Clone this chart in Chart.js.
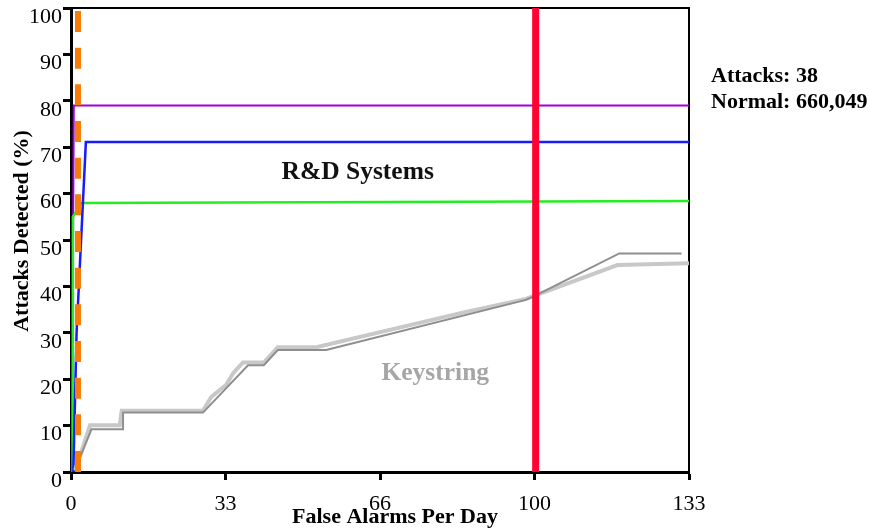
<!DOCTYPE html>
<html>
<head>
<meta charset="utf-8">
<script src="https://cdn.jsdelivr.net/npm/chart.js@4/dist/chart.umd.min.js"></script>
<style>
  html, body { margin: 0; padding: 0; background: #ffffff; }
  #wrap { width: 869px; height: 530px; position: relative; }
</style>
</head>
<body>
<div id="wrap"><canvas id="c" width="869" height="530"></canvas></div>
<script>
// ---- data ----
const xTickLabels = ['0', '33', '66', '100', '133'];
const yTickValues = [0, 10, 20, 30, 40, 50, 60, 70, 80, 90, 100];

const redX = [100, 100];
const redY = [0, 100];

const orangeX = [1.5, 1.5];
const orangeY = [0, 100];

const purpleX = [0, 0.3, 0.6, 133];
const purpleY = [0, 21, 79, 79];

const blueX = [0.5, 1.2, 3.2, 133];
const blueY = [0, 30, 71.1, 71.1];

const greenX = [0.3, 0.4, 2.2, 133];
const greenY = [0, 55, 58, 58.4];

const darkGrayX = [1.5, 4.4, 11.2, 11.2, 28.4, 38.1, 41.5, 44.5, 54.9, 97.9, 99.7, 118.0, 131.4];
const darkGrayY = [2.0, 9.2, 9.2, 12.8, 12.8, 23.0, 23.0, 26.3, 26.3, 37.1, 37.9, 47.1, 47.1];

const lightGrayX = [0.9, 4.1, 10.5, 10.9, 28.4, 30.2, 33.4, 34.9, 37.0, 41.5, 44.5, 52.8, 85.0, 97.9, 117.6, 133];
const lightGrayY = [0.4, 10.1, 10.1, 13.2, 13.2, 16.2, 18.8, 21.3, 23.6, 23.6, 26.9, 26.9, 34.5, 37.3, 44.6, 45.0];

const labelRD = 'R&D Systems';
const labelKey = 'Keystring';
const infoLines = ['Attacks: 38', 'Normal: 660,049'];
const xTitle = 'False Alarms Per Day';
const yTitle = 'Attacks Detected (%)';

// ---- helpers ----
const pts = (xs, ys) => xs.map((x, i) => ({ x: x, y: ys[i] }));
const SERIF = '"Liberation Serif", "Times New Roman", serif';

const ds = (xs, ys, color, width, extra) => Object.assign({
  data: pts(xs, ys),
  borderColor: color,
  backgroundColor: color,
  borderWidth: width,
  pointRadius: 0,
  tension: 0,
  fill: false
}, extra || {});

const textPlugin = {
  id: 'texts',
  beforeDatasetsDraw(chart) {
    const { ctx, chartArea: a } = chart;
    ctx.save();
    ctx.strokeStyle = '#000';
    ctx.lineWidth = 2;
    ctx.beginPath();
    ctx.moveTo(a.left, a.top);
    ctx.lineTo(a.right, a.top);
    ctx.lineTo(a.right, a.bottom);
    ctx.stroke();
    ctx.restore();
  },
  afterDraw(chart) {
    const { ctx } = chart;
    const xs = chart.scales.x, ys = chart.scales.y;
    ctx.save();
    ctx.textAlign = 'center';
    ctx.textBaseline = 'middle';
    ctx.font = 'bold 25.5px ' + SERIF;
    ctx.fillStyle = '#111111';
    ctx.fillText(labelRD, xs.getPixelForValue(61.7), ys.getPixelForValue(64.5));
    ctx.fillStyle = '#a6a6a6';
    ctx.fillText(labelKey, xs.getPixelForValue(78.4), ys.getPixelForValue(21.3));

    ctx.fillStyle = '#000';
    ctx.font = 'bold 22px ' + SERIF;
    ctx.textAlign = 'left';
    ctx.textBaseline = 'alphabetic';
    ctx.fillText(infoLines[0], 711, 82);
    ctx.fillText(infoLines[1], 711, 108);

    ctx.font = 'bold 22px ' + SERIF;
    ctx.textAlign = 'center';
    ctx.textBaseline = 'middle';
    ctx.fillText(xTitle, 395, 517);
    ctx.translate(22, 231);
    ctx.rotate(-Math.PI / 2);
    ctx.fillText(yTitle, 0, 0);
    ctx.restore();
  }
};

new Chart(document.getElementById('c'), {
  type: 'line',
  data: {
    datasets: [
      ds(redX, redY, '#ff0033', 7),
      ds(orangeX, orangeY, '#f97c06', 6, { borderDash: [21, 15.67] }),
      ds(darkGrayX, darkGrayY, '#8e8e8e', 2),
      ds(lightGrayX, lightGrayY, '#c8c8c8', 4),
      ds(blueX, blueY, '#1a1aff', 2.5),
      ds(greenX, greenY, '#22ee22', 2.5),
      ds(purpleX, purpleY, '#a000d8', 2)
    ]
  },
  options: {
    responsive: false,
    devicePixelRatio: 1,
    animation: false,
    parsing: true,
    layout: { padding: { top: 8, right: 180, left: 0, bottom: 0 } },
    plugins: { legend: { display: false }, tooltip: { enabled: false } },
    scales: {
      x: {
        type: 'linear',
        min: 0,
        max: 133,
        afterFit: s => { s.height = 58; s.paddingLeft = 0; s.paddingRight = 0; },
        ticks: {
          count: xTickLabels.length,
          callback: (v, i) => xTickLabels[i],
          font: { family: SERIF, size: 22 },
          color: '#000',
          padding: 11,
          maxRotation: 0,
          autoSkip: false
        },
        grid: { display: true, drawOnChartArea: false, drawTicks: true, tickLength: 8, tickWidth: 3, tickColor: '#000' },
        border: { display: true, width: 3, color: '#000' }
      },
      y: {
        type: 'linear',
        min: 0,
        max: 100,
        afterFit: s => { s.width = 71; s.paddingTop = 0; s.paddingBottom = 0; },
        afterBuildTicks: s => { s.ticks = yTickValues.map(v => ({ value: v })); },
        ticks: {
          callback: v => String(v),
          font: { family: SERIF, size: 22 },
          color: '#000',
          padding: 1,
          labelOffset: 9
        },
        grid: { display: true, drawOnChartArea: false, drawTicks: true, tickLength: 8, tickWidth: 3, tickColor: '#000' },
        border: { display: true, width: 3, color: '#000' }
      }
    }
  },
  plugins: [textPlugin]
});
</script>
</body>
</html>
